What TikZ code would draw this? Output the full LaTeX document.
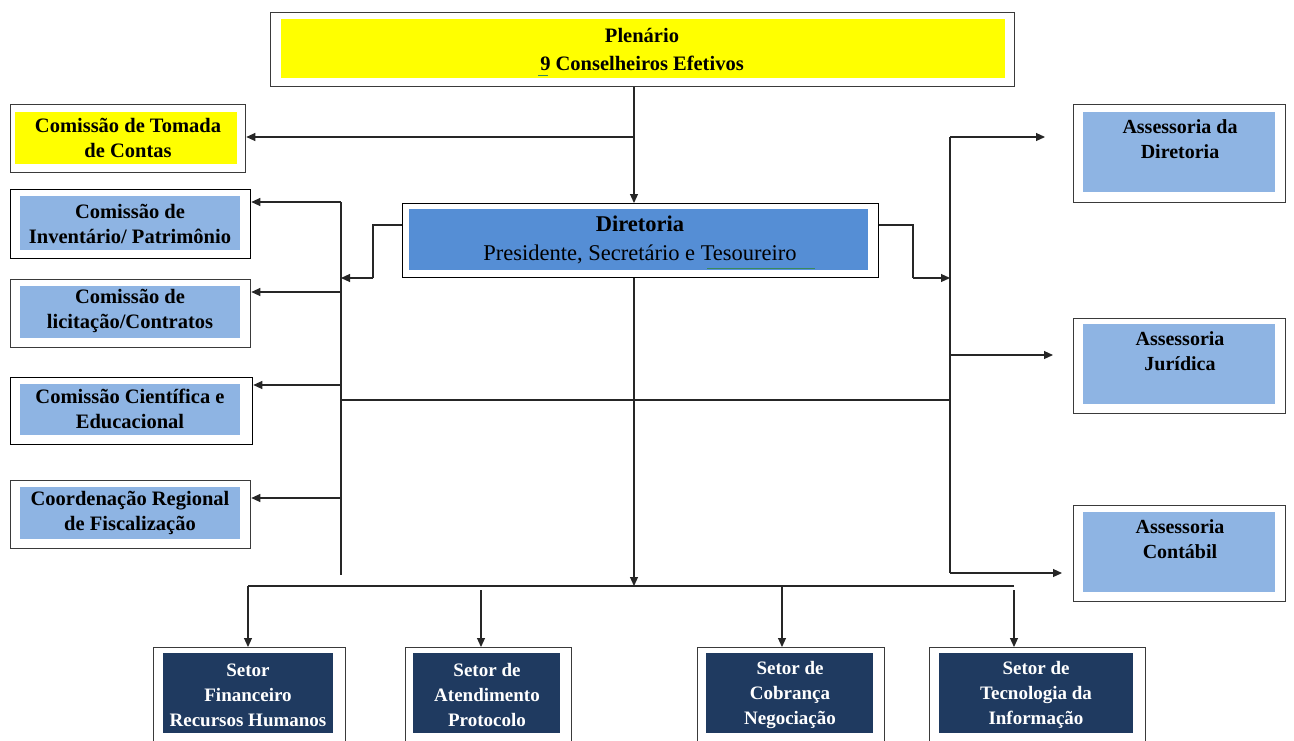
\documentclass[tikz,border=0pt]{standalone}
\usepackage{fontspec}
\setmainfont{Liberation Serif}
\usetikzlibrary{arrows.meta}
\definecolor{ylw}{HTML}{FFFF00}
\definecolor{lblue}{HTML}{8EB4E3}
\definecolor{dblue}{HTML}{558ED5}
\definecolor{navy}{HTML}{1F3A60}
\definecolor{frame}{HTML}{3A3A3A}
\definecolor{squig}{HTML}{3A8A5A}
\tikzset{
  outer/.style={draw=frame, line width=1.3pt, fill=white, inner sep=0pt, anchor=north west},
  innerbox/.style={draw=none, inner sep=0pt, anchor=north west},
  txt/.style={align=center, inner sep=0pt, font=\bfseries\fontsize{20.5}{25}\selectfont},
  rtxt/.style={txt, font=\bfseries\fontsize{20}{25}\selectfont},
  wtxt/.style={txt, text=white, font=\bfseries\fontsize{19}{25}\selectfont},
  conn/.style={draw=black!85, line width=1.1pt},
  arr/.style={conn, -{Triangle[length=9pt,width=8pt]}},
}
\begin{document}
\begin{tikzpicture}[x=1pt,y=-1pt]
\clip (0,0) rectangle (1294,740);
\fill[white] (0,0) rectangle (1294,740);

% Plenario
\node[outer, minimum width=744pt, minimum height=74pt] (plen) at (270,12) {};
\node[innerbox, fill=ylw, minimum width=724pt, minimum height=59pt] (plenin) at (281,19) {};
\node[txt, font=\bfseries\fontsize{20.5}{28}\selectfont] (plent) at (642,49) {Plenário\\9 Conselheiros Efetivos};

% Left column
\node[outer, minimum width=235pt, minimum height=68pt] (tom) at (10,104) {};
\node[innerbox, fill=ylw, minimum width=222pt, minimum height=52pt] (tomin) at (15,112) {};
\node[txt] (tomt) at (128,138) {Comissão de Tomada\\de Contas};

\node[outer, draw=black, minimum width=240pt, minimum height=69pt] (inv) at (10,189) {};
\node[innerbox, fill=lblue, minimum width=220pt, minimum height=54pt] (invin) at (20,196) {};
\node[txt] (invt) at (130,224) {Comissão de\\Inventário/ Patrimônio};

\node[outer, minimum width=240pt, minimum height=68pt] (lic) at (10,279) {};
\node[innerbox, fill=lblue, minimum width=220pt, minimum height=52pt] (licin) at (20,286) {};
\node[txt] (lict) at (130,311) {Comissão de\\licitação/Contratos};

\node[outer, draw=black, minimum width=242pt, minimum height=67pt] (cie) at (10,377) {};
\node[innerbox, fill=lblue, minimum width=220pt, minimum height=51pt] (ciein) at (20,384) {};
\node[txt] (ciet) at (130,409) {Comissão Científica e\\Educacional};

\node[outer, minimum width=240pt, minimum height=68pt] (coo) at (10,480) {};
\node[innerbox, fill=lblue, minimum width=220pt, minimum height=52pt] (cooin) at (20,487) {};
\node[txt] (coot) at (130,513) {Coordenação Regional\\de Fiscalização};

% Diretoria
\node[outer, draw=black, minimum width=476pt, minimum height=74pt] (dir) at (402,203) {};
\node[innerbox, fill=dblue, minimum width=459pt, minimum height=61pt] (dirin) at (409,209) {};
\node[txt, font=\fontsize{22.5}{29}\selectfont] (dirt) at (640,240) {\textbf{Diretoria}\\Presidente, Secretário e Tesoureiro};

% Right column
\node[outer, minimum width=212pt, minimum height=98pt] (ad) at (1073,104) {};
\node[innerbox, fill=lblue, minimum width=192pt, minimum height=80pt] (adin) at (1083,112) {};
\node[rtxt] (adt) at (1180,139) {Assessoria da\\Diretoria};

\node[outer, minimum width=212pt, minimum height=95pt] (aj) at (1073,318) {};
\node[innerbox, fill=lblue, minimum width=192pt, minimum height=80pt] (ajin) at (1083,324) {};
\node[rtxt] (ajt) at (1180,351) {Assessoria\\Jurídica};

\node[outer, minimum width=212pt, minimum height=96pt] (ac) at (1073,505) {};
\node[innerbox, fill=lblue, minimum width=192pt, minimum height=80pt] (acin) at (1083,512) {};
\node[rtxt] (act) at (1180,539) {Assessoria\\Contábil};

% Bottom row
\node[outer, minimum width=192pt, minimum height=110pt] (fin) at (153,647) {};
\node[innerbox, fill=navy, minimum width=170pt, minimum height=80pt] (finin) at (163,653) {};
\node[wtxt] (fint) at (248,695) {Setor\\Financeiro\\Recursos Humanos};

\node[outer, minimum width=166pt, minimum height=110pt] (ate) at (405,647) {};
\node[innerbox, fill=navy, minimum width=147pt, minimum height=80pt] (atein) at (413,653) {};
\node[wtxt] (atet) at (487,695) {Setor de\\Atendimento\\Protocolo};

\node[outer, minimum width=187pt, minimum height=110pt] (cob) at (697,647) {};
\node[innerbox, fill=navy, minimum width=167pt, minimum height=80pt] (cobin) at (706,653) {};
\node[wtxt] (cobt) at (790,695) {Setor de\\Cobrança\\Negociação};

\node[outer, minimum width=216pt, minimum height=110pt] (tec) at (929,647) {};
\node[innerbox, fill=navy, minimum width=194pt, minimum height=80pt] (tecin) at (939,653) {};
\node[wtxt] (tect) at (1036,695) {Setor de\\Tecnologia da\\Informação};

% spell-check squiggles
\draw[squig, line width=0.8pt] (538,75) -- (548,75);
\draw[squig, line width=0.8pt] (707,268) -- (815,268);

% bus coordinates
\coordinate (pt) at (634,137);
\coordinate (lbTop) at (341,202);
\coordinate (lbBot) at (341,575);
\coordinate (rbTop) at (950,137);
\coordinate (rbMid) at (950,355);
\coordinate (rbBot) at (950,573);
\coordinate (hl) at (341,400);
\coordinate (hr) at (950,400);
\coordinate (dl1) at (373,225);
\coordinate (dl2) at (373,278);
\coordinate (lbD) at (341,278);
\coordinate (dr1) at (913,225);
\coordinate (dr2) at (913,278);
\coordinate (rbD) at (950,278);
\coordinate (bc) at (634,586);
\coordinate (bL) at (248,586);
\coordinate (bR) at (1014,586);
\coordinate (bA) at (481,590);
\coordinate (bB) at (782,586);
\coordinate (bT) at (1014,590);

% connectors
\draw[arr] (plen.south -| pt) -- (dir.north -| pt);
\draw[arr] (pt) -- (pt -| tom.east);
\draw[conn] (lbTop) -- (lbBot);
\draw[arr] (lbTop) -- (lbTop -| inv.east);
\draw[arr] (341,292) -- (lic.east |- 0,292);
\draw[arr] (341,385) -- (cie.east |- 0,385);
\draw[arr] (341,498) -- (coo.east |- 0,498);
\draw[conn] (dir.west |- dl1) -- (dl1) -- (dl2);
\draw[arr] (dl2) -- (lbD);
\draw[conn] (dir.east |- dr1) -- (dr1) -- (dr2);
\draw[arr] (dr2) -- (rbD);
\draw[conn] (rbTop) -- (rbBot);
\draw[arr, shorten >=28pt] (rbTop) -- (rbTop -| ad.west);
\draw[arr, shorten >=20pt] (rbMid) -- (rbMid -| aj.west);
\draw[arr, shorten >=11pt] (rbBot) -- (rbBot -| ac.west);
\draw[conn] (hl) -- (hr);
\draw[arr] (dir.south -| bc) -- (bc);
\draw[conn] (bR) -- (bL);
\draw[arr] (bL) -- (bL |- fin.north);
\draw[arr] (bA) -- (bA |- ate.north);
\draw[arr] (bB) -- (bB |- cob.north);
\draw[arr] (bT) -- (bT |- tec.north);
\end{tikzpicture}
\end{document}
